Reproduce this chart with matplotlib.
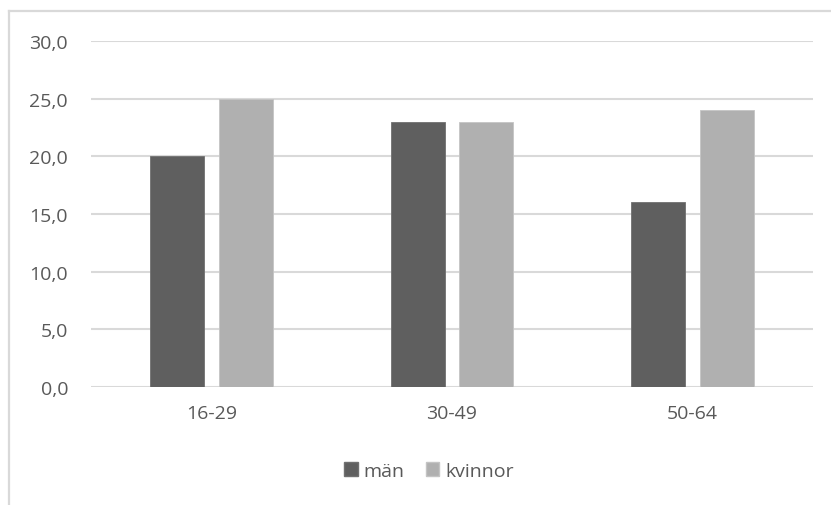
import matplotlib

matplotlib.use("Agg")
import matplotlib.pyplot as plt
import numpy as np
from matplotlib.lines import Line2D
from matplotlib.patches import Patch

categories = ["16-29", "30-49", "50-64"]
man = [20.0, 23.0, 16.0]
kvinnor = [25.0, 23.0, 24.0]
series_names = ["män", "kvinnor"]
yticks = [0, 5, 10, 15, 20, 25, 30]

DARK = "#5f5f5f"
LIGHT = "#b0b0b0"
GRID = "#d9d9d9"
TEXT = "#595959"
FS = 14

plt.rcParams["font.family"] = ["Open Sans", "DejaVu Sans"]

W, H = 831, 506
fig = plt.figure(figsize=(W / 100, H / 100), dpi=100)
ax = fig.add_axes([91 / W, 1 - 388 / H, (813 - 91) / W, (388 - 42) / H])

x = np.arange(len(categories))
width = 0.224
offset = 0.143
ax.bar(x - offset, man, width, color=DARK, edgecolor="#707070", linewidth=0.6, zorder=3)
ax.bar(x + offset, kvinnor, width, color=LIGHT, edgecolor="#c4c4c4", linewidth=0.6, zorder=3)

ax.set_xlim(-0.5, len(categories) - 0.5)
ax.set_ylim(0, 30)
ax.set_yticks(yticks)
ax.set_yticklabels([f"{v:.1f}".replace(".", ",") for v in yticks])
ax.set_xticks(x)
ax.set_xticklabels(categories)
ax.tick_params(axis="both", length=0, colors=TEXT, labelsize=FS)
ax.tick_params(axis="y", pad=16.5)
ax.tick_params(axis="x", pad=12)
ax.grid(axis="y", color=GRID, linewidth=1.5, zorder=0)
for s in ax.spines.values():
    s.set_visible(False)

# chart frame (cropped on right and bottom)
fig.add_artist(Line2D([9 / W, 1.0], [1 - 12 / H, 1 - 12 / H], color=GRID, linewidth=1.6,
                      transform=fig.transFigure))
fig.add_artist(Line2D([9 / W, 9 / W], [1 - 12 / H, 0.0], color=GRID, linewidth=1.6,
                      transform=fig.transFigure))

handles = [Patch(facecolor=DARK, edgecolor="#707070"), Patch(facecolor=LIGHT, edgecolor="#c4c4c4")]
fig.legend(handles, series_names, loc="center", bbox_to_anchor=(429 / W, 1 - 472 / H),
           ncol=2, frameon=False, fontsize=FS, labelcolor=TEXT,
           handlelength=0.7, handleheight=0.7, handletextpad=0.3, columnspacing=1.1)

fig.savefig("out.png", dpi=100)
